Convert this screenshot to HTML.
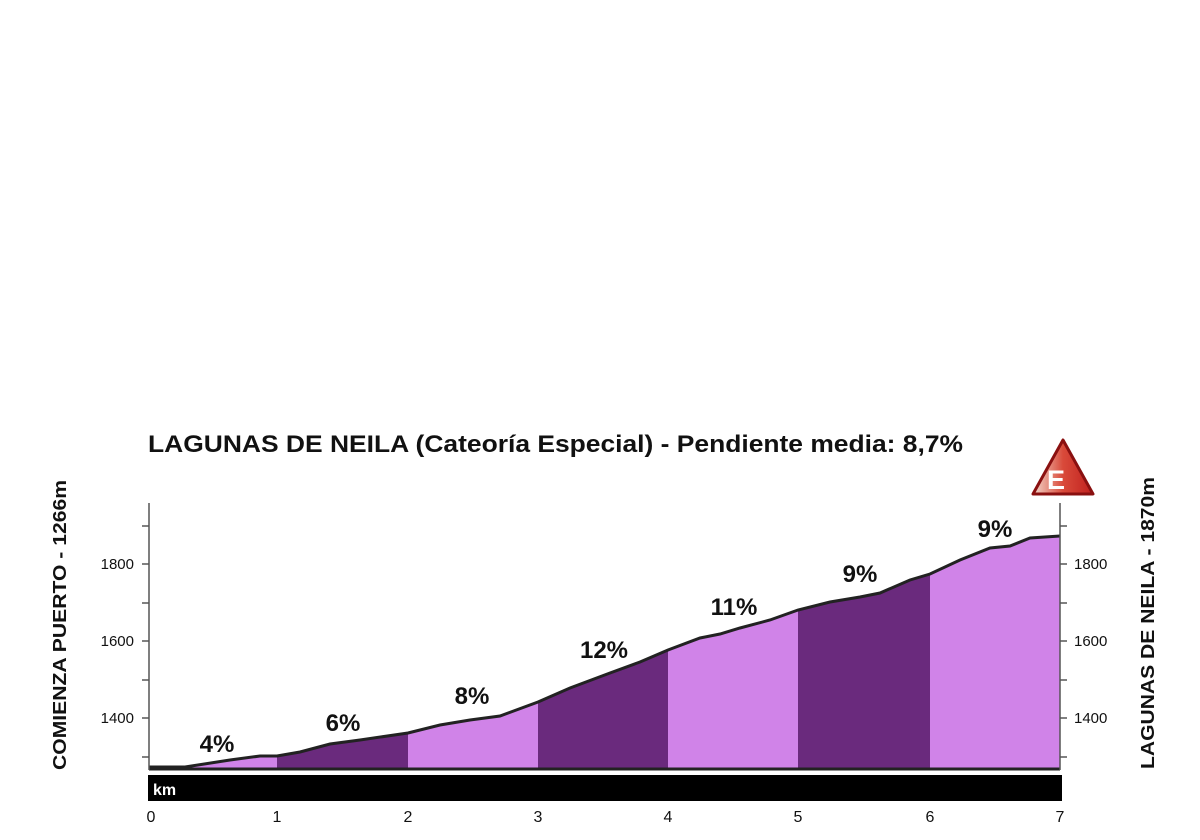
<!DOCTYPE html>
<html><head><meta charset="utf-8"><style>
html,body{margin:0;padding:0;background:#fff;}
svg{display:block;font-family:"Liberation Sans",Arial,sans-serif;}
</style></head><body>
<svg width="1200" height="840" viewBox="0 0 1200 840" xmlns="http://www.w3.org/2000/svg">
<defs>
<clipPath id="prof"><polygon points="149,770 149,767 185,767 230,760 260,756 277,756 300,752 330,744 360,740 408,733 440,725 470,720 500,716 538,702 570,688 610,673 640,662 668,650 700,638 720,634 740,628 770,620 798,610 830,602 860,597 880,593 910,580 930,574 960,560 990,548 1010,546 1030,538 1060,536 1060,770"/></clipPath>
<linearGradient id="eg" x1="0" y1="0" x2="1" y2="0"><stop offset="0" stop-color="#f3d8cc"/><stop offset="0.5" stop-color="#d94a3a"/><stop offset="1" stop-color="#c0201e"/></linearGradient>
</defs>
<text x="148" y="452" font-size="24" font-weight="bold" fill="#111" textLength="815" lengthAdjust="spacingAndGlyphs">LAGUNAS DE NEILA (Cateoría Especial) - Pendiente media: 8,7%</text>
<g clip-path="url(#prof)">
<rect x="149" y="500" width="128" height="270" fill="#d083e8"/>
<rect x="277" y="500" width="131" height="270" fill="#6a2a7d"/>
<rect x="408" y="500" width="130" height="270" fill="#d083e8"/>
<rect x="538" y="500" width="130" height="270" fill="#6a2a7d"/>
<rect x="668" y="500" width="130" height="270" fill="#d083e8"/>
<rect x="798" y="500" width="132" height="270" fill="#6a2a7d"/>
<rect x="930" y="500" width="130" height="270" fill="#d083e8"/>
</g>
<polyline points="149,767 185,767 230,760 260,756 277,756 300,752 330,744 360,740 408,733 440,725 470,720 500,716 538,702 570,688 610,673 640,662 668,650 700,638 720,634 740,628 770,620 798,610 830,602 860,597 880,593 910,580 930,574 960,560 990,548 1010,546 1030,538 1060,536" fill="none" stroke="#222" stroke-width="3"/>
<line x1="149" y1="769" x2="1060" y2="769" stroke="#222" stroke-width="3"/>
<g stroke="#555" stroke-width="1.5">
<line x1="149" y1="503" x2="149" y2="770"/>
<line x1="1060" y1="503" x2="1060" y2="770"/>
<line x1="142" y1="526" x2="149" y2="526"/><line x1="142" y1="564" x2="149" y2="564"/><line x1="142" y1="603" x2="149" y2="603"/><line x1="142" y1="641" x2="149" y2="641"/><line x1="142" y1="680" x2="149" y2="680"/><line x1="142" y1="718" x2="149" y2="718"/><line x1="142" y1="757" x2="149" y2="757"/>
<line x1="1060" y1="526" x2="1067" y2="526"/><line x1="1060" y1="564" x2="1067" y2="564"/><line x1="1060" y1="603" x2="1067" y2="603"/><line x1="1060" y1="641" x2="1067" y2="641"/><line x1="1060" y1="680" x2="1067" y2="680"/><line x1="1060" y1="718" x2="1067" y2="718"/><line x1="1060" y1="757" x2="1067" y2="757"/>
</g>
<g font-size="15" fill="#111">
<text x="134" y="569" text-anchor="end">1800</text>
<text x="134" y="646" text-anchor="end">1600</text>
<text x="134" y="723" text-anchor="end">1400</text>
<text x="1074" y="569">1800</text>
<text x="1074" y="646">1600</text>
<text x="1074" y="723">1400</text>
</g>
<text transform="translate(66,625) rotate(-90)" font-size="18" font-weight="bold" text-anchor="middle" fill="#111" textLength="290" lengthAdjust="spacingAndGlyphs">COMIENZA PUERTO - 1266m</text>
<text transform="translate(1154,623) rotate(-90)" font-size="18" font-weight="bold" text-anchor="middle" fill="#111" textLength="292" lengthAdjust="spacingAndGlyphs">LAGUNAS DE NEILA - 1870m</text>
<g font-size="24" font-weight="bold" fill="#111" text-anchor="middle">
<text x="217" y="752">4%</text>
<text x="343" y="731">6%</text>
<text x="472" y="704">8%</text>
<text x="604" y="658">12%</text>
<text x="734" y="615">11%</text>
<text x="860" y="582">9%</text>
<text x="995" y="537">9%</text>
</g>
<rect x="148" y="775" width="914" height="26" fill="#000"/>
<text x="153" y="795" font-size="16" font-weight="bold" fill="#fff">km</text>
<g font-size="16" fill="#111" text-anchor="middle">
<text x="151" y="822">0</text><text x="277" y="822">1</text><text x="408" y="822">2</text><text x="538" y="822">3</text><text x="668" y="822">4</text><text x="798" y="822">5</text><text x="930" y="822">6</text><text x="1060" y="822">7</text>
</g>
<path d="M1063,440 L1093,494 L1033,494 Z" fill="url(#eg)" stroke="#8a1010" stroke-width="3" stroke-linejoin="round"/>
<text x="1056" y="489" font-size="27" font-weight="bold" fill="#fff" text-anchor="middle">E</text>
</svg>
</body></html>
